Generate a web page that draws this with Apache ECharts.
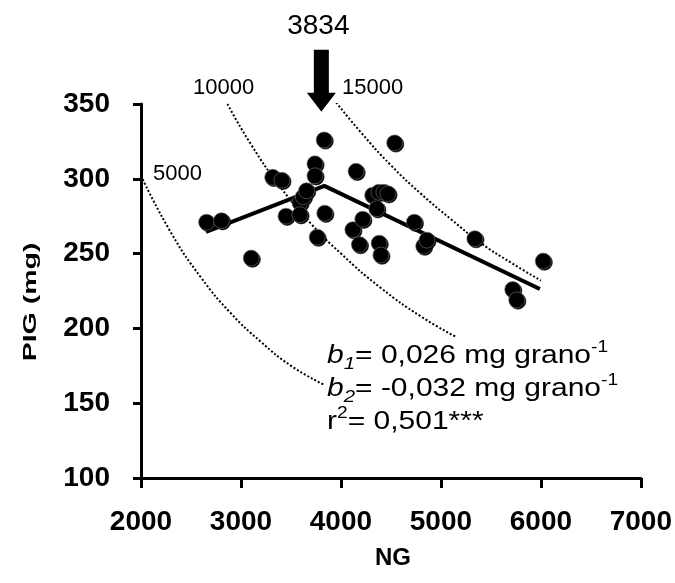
<!DOCTYPE html>
<html>
<head>
<meta charset="utf-8">
<script src="https://cdn.jsdelivr.net/npm/echarts@6/dist/echarts.min.js"></script>
<style>
  html, body { margin: 0; padding: 0; background: #fff; }
  #main { width: 675px; height: 583px; }
</style>
</head>
<body>
<div id="main"></div>
<script>
// NG (granos) y PIG (mg) de cada punto
var ngVals = [2656, 2805, 3102, 3317, 3409, 3450, 3590, 3590, 3624, 3656, 3740, 3740, 3762, 3832, 3838,
  4119, 4151, 4184, 4218, 4317, 4358, 4380, 4430, 4470, 4382, 4399, 4537, 4734, 4827, 4860, 5339, 5718, 5758, 6023];
var pigVals = [271, 272, 247, 301, 299, 275, 284, 276, 288, 292, 310, 302, 261, 326, 277,
  266, 305, 256, 273, 289, 280, 291, 291, 290, 257, 249, 324, 271, 255, 259, 260, 226, 219, 245];

// modelo bilineal (quiebre en 3834)
var breakNG = 3834;
var fitLine = [[2650, 264.5], [3834, 295.3], [5990, 226.3]];

// isolineas de rendimiento
var iso5000 = [[2000, 302], [2300, 264], [2600, 234], [2900, 210], [3200, 191], [3500, 175], [3840, 162]];
var iso10000 = [[2865, 350], [3100, 323], [3400, 294], [3700, 270], [4000, 250], [4400, 227], [4800, 208], [5160, 194]];
var iso15000 = [[3953, 351], [4200, 331], [4500, 309], [4800, 290], [5100, 273], [5400, 257], [5700, 244], [6000, 232]];

var xTicks = { min: 2000, max: 7000, step: 1000 };
var yTicks = { min: 100, max: 350, step: 50 };

var points = ngVals.map(function (v, i) { return [v, pigVals[i]]; });

var font = "'Liberation Sans', Arial, Helvetica, sans-serif";
var chart = echarts.init(document.getElementById('main'));

function isoSeries(data) {
  return {
    type: 'line',
    data: data,
    smooth: true,
    symbol: 'none',
    silent: true,
    lineStyle: { color: '#000', width: 2, type: [2, 2] },
    z: 1
  };
}

chart.setOption({
  animation: false,
  grid: { left: 141, right: 30, top: 104, bottom: 105 },
  xAxis: {
    type: 'value',
    min: xTicks.min, max: xTicks.max, interval: xTicks.step,
    splitLine: { show: false },
    axisLine: { lineStyle: { color: '#000', width: 3 } },
    axisTick: { length: 10, lineStyle: { color: '#000', width: 3 } },
    axisLabel: {
      margin: 30, color: '#000', fontSize: 28, fontWeight: 'bold', fontFamily: font,
      formatter: function (v) { return String(v); }
    }
  },
  yAxis: {
    type: 'value',
    min: yTicks.min, max: yTicks.max, interval: yTicks.step,
    splitLine: { show: false },
    axisLine: { show: true, lineStyle: { color: '#000', width: 3 } },
    axisTick: { show: true, length: 8, lineStyle: { color: '#000', width: 3 } },
    axisLabel: { margin: 31, color: '#000', fontSize: 28, fontWeight: 'bold', fontFamily: font }
  },
  series: [
    isoSeries(iso5000),
    isoSeries(iso10000),
    isoSeries(iso15000),
    {
      type: 'line',
      data: fitLine,
      symbol: 'none',
      lineStyle: { color: '#000', width: 4 },
      z: 3
    },
    {
      // flecha que marca el punto de quiebre
      type: 'scatter',
      data: [[breakNG, 365.5]],
      clip: false,
      silent: true,
      symbol: 'path://M7,0 L22,0 L22,43 L29,43 L14.5,62 L0,43 L7,43 Z',
      symbolSize: [29, 62],
      symbolOffset: [-3, 0],
      itemStyle: { color: '#000', opacity: 1 },
      label: {
        show: true, position: 'top', distance: 10, offset: [-3, 0],
        color: '#000', fontSize: 28, fontFamily: font,
        formatter: String(breakNG)
      },
      z: 5
    },
    {
      type: 'scatter',
      data: points,
      symbol: 'circle',
      symbolSize: 16,
      itemStyle: {
        color: '#000',
        opacity: 1,
        borderColor: '#777',
        borderWidth: 0.6,
        shadowColor: '#000',
        shadowOffsetX: 1.2,
        shadowOffsetY: 1.2
      },
      z: 4
    }
  ],
  graphic: [
    { type: 'text', left: 153, top: 163, style: { text: '5000', fill: '#000', fontSize: 22, fontFamily: font } },
    { type: 'text', left: 193, top: 77, style: { text: '10000', fill: '#000', fontSize: 22, fontFamily: font } },
    { type: 'text', left: 342, top: 77, style: { text: '15000', fill: '#000', fontSize: 22, fontFamily: font } },
    {
      type: 'text', x: 393, y: 558,
      style: { text: 'NG', fill: '#000', fontSize: 24, fontWeight: 'bold', fontFamily: font, align: 'center', verticalAlign: 'middle' }
    },
    {
      type: 'text', x: 31, y: 302, rotation: Math.PI / 2, scaleX: 1.5,
      style: { text: 'PIG (mg)', fill: '#000', fontSize: 19, fontWeight: 'bold', fontFamily: font, align: 'center', verticalAlign: 'middle' }
    },
    {
      type: 'text', x: 327, y: 340, scaleX: 1.2,
      style: {
        text: '{i|b}{s|1}{n|= 0,026 mg grano}{p|-1}\n{i|b}{s|2}{n|= -0,032 mg grano}{p|-1}\n{n|r}{p|2}{n|= 0,501***}',
        fill: '#000',
        fontFamily: font,
        rich: {
          n: { fontSize: 25, lineHeight: 33, fill: '#000', fontFamily: font },
          i: { fontSize: 25, lineHeight: 33, fontStyle: 'italic', fill: '#000', fontFamily: font },
          s: { fontSize: 17, lineHeight: 17, fontStyle: 'italic', verticalAlign: 'bottom', fill: '#000', fontFamily: font },
          p: { fontSize: 16, lineHeight: 16, verticalAlign: 'top', fill: '#000', fontFamily: font }
        }
      }
    }
  ]
});
</script>
</body>
</html>
